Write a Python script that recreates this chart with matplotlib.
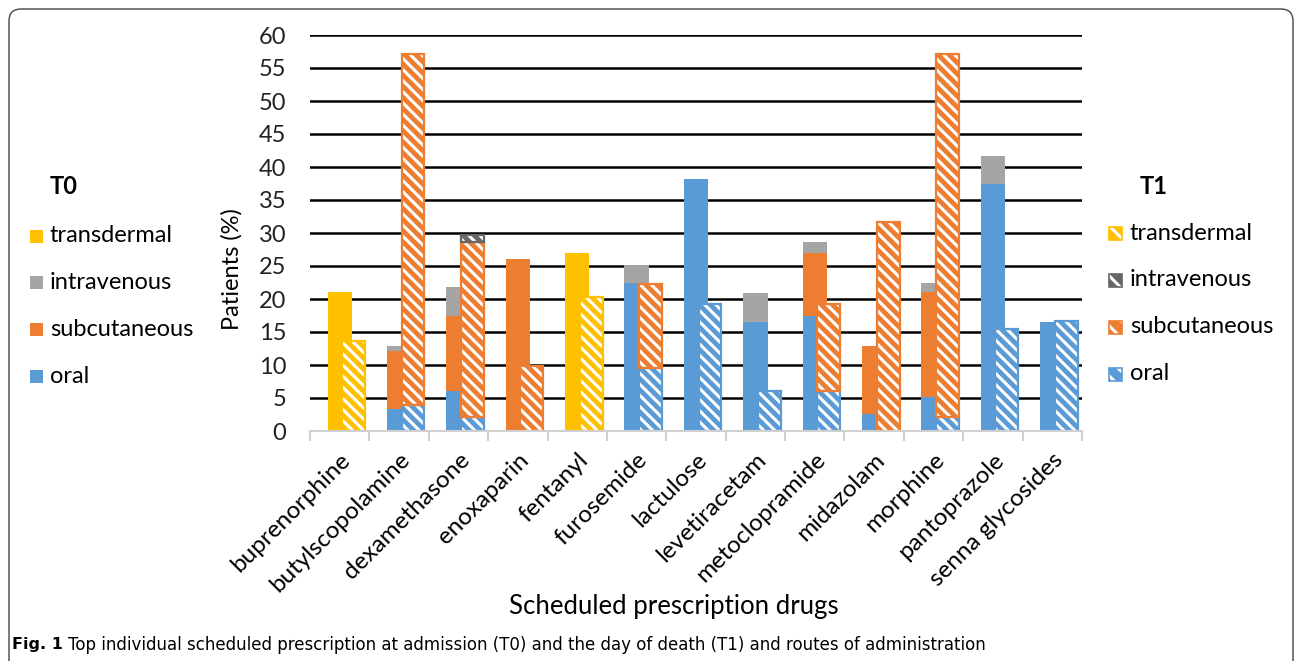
import numpy as np
import matplotlib.pyplot as plt
from matplotlib.patches import Rectangle, FancyBboxPatch

drugs = ["buprenorphine", "butylscopolamine", "dexamethasone", "enoxaparin",
         "fentanyl", "furosemide", "lactulose", "levetiracetam",
         "metoclopramide", "midazolam", "morphine", "pantoprazole",
         "senna glycosides"]

# T0 (admission), % of patients by route
t0_oral = [0, 3.4, 6.1, 0, 0, 22.5, 38.2, 16.5, 17.5, 2.6, 5.2, 37.4, 16.5]
t0_subc = [0, 8.7, 11.4, 26.0, 0, 0, 0, 0, 9.5, 10.3, 15.8, 0, 0]
t0_iv = [0, 0.8, 4.3, 0, 0, 2.7, 0, 4.4, 1.6, 0, 1.5, 4.3, 0]
t0_trans = [21.0, 0, 0, 0, 27.0, 0, 0, 0, 0, 0, 0, 0, 0]

# T1 (day of death)
t1_oral = [0, 4.0, 2.1, 0, 0, 9.6, 19.3, 6.1, 6.0, 0, 2.1, 15.5, 16.6]
t1_subc = [0, 53.1, 26.5, 9.8, 0, 12.7, 0, 0, 13.3, 31.6, 55.0, 0, 0]
t1_iv = [0, 0, 1.1, 0, 0, 0, 0, 0, 0, 0, 0, 0, 0]
t1_trans = [13.7, 0, 0, 0, 20.3, 0, 0, 0, 0, 0, 0, 0, 0]

routes = ["transdermal", "intravenous", "subcutaneous", "oral"]
c_trans, c_iv, c_subc, c_oral = "#FFC000", "#A5A5A5", "#ED7D31", "#5B9BD5"
c_iv1 = "#666666"

plt.rcParams['font.family'] = ['Lato', 'DejaVu Sans']
plt.rcParams['hatch.linewidth'] = 2.2

fig = plt.figure(figsize=(12.95, 6.61), dpi=100)
W, H = 1295, 661
ax = fig.add_axes([310 / W, 1 - 431 / H, 772 / W, 396 / H])

x = np.arange(len(drugs))
w = 0.41
off1 = 0.235

# T0 solid stacks
bottom = np.zeros(len(drugs))
for vals, col in [(t0_oral, c_oral), (t0_subc, c_subc), (t0_iv, c_iv), (t0_trans, c_trans)]:
    ax.bar(x, vals, w, bottom=bottom, color=col, zorder=3, linewidth=0)
    bottom += np.array(vals)

# T1 hatched stacks
bottom = np.zeros(len(drugs))
for vals, col in [(t1_oral, c_oral), (t1_subc, c_subc), (t1_iv, c_iv1), (t1_trans, c_trans)]:
    v = np.array(vals)
    m = v > 0
    ax.bar(x[m] + off1, v[m], w, bottom=bottom[m], color=col, edgecolor="white",
           hatch="\\\\\\", linewidth=0, zorder=4)
    ax.bar(x[m] + off1, v[m], w * 0.94, bottom=bottom[m], facecolor="none",
           edgecolor=col, linewidth=1.6, zorder=5)
    bottom += v

ax.set_xlim(-0.5, len(drugs) - 0.5)
ax.set_ylim(0, 60)
ax.set_yticks(range(0, 61, 5))
ax.yaxis.grid(True, color="black", linewidth=1.8, zorder=0)
ax.set_axisbelow(True)
for s in ["top", "right", "left"]:
    ax.spines[s].set_visible(False)
ax.spines["bottom"].set_color("#D0D0D0")
ax.spines["bottom"].set_linewidth(1.5)
ax.spines["bottom"].set_zorder(6)

ax.set_xticks(np.arange(-0.5, len(drugs), 1.0))
ax.set_xticklabels([])
ax.tick_params(axis="x", which="major", length=7, color="#D0D0D0", width=1.5)
ax.set_xticks(x, minor=True)
ax.set_xticklabels(drugs, minor=True, rotation=45, ha="right",
                   rotation_mode="anchor", fontsize=17.5)
ax.tick_params(axis="x", which="minor", length=0, pad=13)
ax.tick_params(axis="y", length=0, labelsize=17, pad=17, labelcolor="#222222")

ax.set_ylabel("Patients (%)", fontsize=17)
ax.yaxis.set_label_coords(-0.101, 0.41)
ax.yaxis.label.set_va("center")
ax.set_xlabel("Scheduled prescription drugs", fontsize=18.5)
ax.xaxis.set_label_coords(0.4715, -0.444)
ax.xaxis.label.set_va("center")

# left legend (T0)
fig.text(50 / W, 1 - 186 / H, "T0", fontsize=17, fontweight="bold", va="center")
for i, (lab, col) in enumerate(zip(routes, [c_trans, c_iv, c_subc, c_oral])):
    yc = 236 + i * 46.7
    fig.patches.append(Rectangle((30, H - yc - 6.5), 13, 13, transform=None,
                                 facecolor=col, edgecolor="none"))
    fig.text(50 / W, 1 - yc / H, lab, fontsize=17, va="center")

# right legend (T1)
fig.text(1140 / W, 1 - 186 / H, "T1", fontsize=17, fontweight="bold", va="center")
for i, (lab, col) in enumerate(zip(routes, [c_trans, c_iv1, c_subc, c_oral])):
    yc = 233 + i * 47
    fig.patches.append(Rectangle((1109, H - yc - 6.5), 13, 13, transform=None,
                                 facecolor=col, edgecolor="white", hatch="\\\\",
                                 linewidth=0))
    fig.patches.append(Rectangle((1109, H - yc - 6.5), 13, 13, transform=None,
                                 facecolor="none", edgecolor=col, linewidth=1.2))
    fig.text(1130 / W, 1 - yc / H, lab, fontsize=17, va="center")

# frame and caption
fig.patches.append(FancyBboxPatch((9, -30), 1284, 682, transform=None,
                                  boxstyle="round,pad=0,rounding_size=12",
                                  facecolor="none", edgecolor="#444444", linewidth=1.0))
cap_font = ['DejaVu Sans']
fig.text(12 / W, 1 - 645 / H, "Fig. 1", fontsize=11.5, fontweight="bold",
         family=cap_font, va="center")
fig.text(68 / W, 1 - 645 / H,
         "Top individual scheduled prescription at admission (T0) and the day of death (T1) and routes of administration",
         fontsize=12, family=cap_font, va="center")

fig.savefig("out.png", dpi=100)
